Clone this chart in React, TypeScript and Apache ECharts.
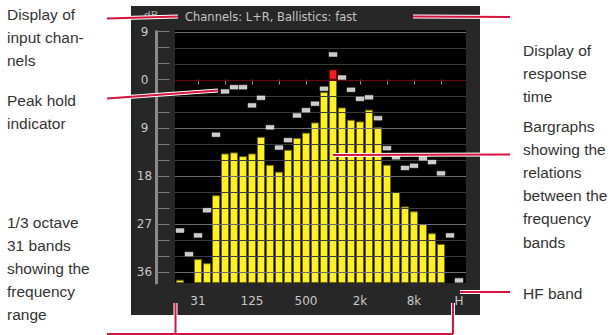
import React, { useEffect, useRef } from "react";
import * as echarts from "echarts";

// 1/3-octave bands (31) plus the HF band
const bands = [
  "20", "25", "31", "40", "50", "63", "80", "100", "125", "160", "200", "250",
  "315", "400", "500", "630", "800", "1k", "1.25k", "1.6k", "2k", "2.5k", "3.15k",
  "4k", "5k", "6.3k", "8k", "10k", "12.5k", "16k", "20k", "H",
];
const shownBandLabels = ["31", "125", "500", "2k", "8k", "H"];

// current level per band (dB, 0 = reference, negative = below)
const levels: (number | null)[] = [
  -37.4, null, -33.5, -34.3, -21.6, -13.8, -13.6, -14.3, -13.8, -10.7, -15.9, -17.2,
  -13.1, -10.9, -9.9, -8.0, -2.3, 1.9, -5.2, -7.5, -7.8, -5.6, -8.9, -15.9,
  -21.0, -23.7, -24.6, -27.0, -28.7, -30.7, null, null,
];

// peak hold per band (dB)
const peaks = [
  -28.2, -32.6, -29.1, -24.4, -10.3, -2.2, -1.4, -1.4, -4.8, -3.4, -8.9, -12.7,
  -11.3, -6.7, -5.7, -4.5, -1.7, 4.7, 0.4, -1.9, -3.6, -3.3, -7.2, -12.8,
  -14.5, -16.5, -16.1, -14.7, -15.4, -17.5, -29.1, -37.5,
];

const gridLevels = [9, 6, 3, 0, -3, -6, -9, -12, -15, -18, -21, -24, -27, -30, -33, -36];
const scaleLabels = [9, 0, -9, -18, -27, -36];
const yMin = -38;
const yMax = 9;

const leftNotes = [
  { lines: ["Display of", "input chan-", "nels"], y: 14 },
  { lines: ["Peak hold", "indicator"], y: 100 },
  { lines: ["1/3 octave", "31 bands", "showing the", "frequency", "range"], y: 222 },
];
const rightNotes = [
  { lines: ["Display of", "response", "time"], y: 50 },
  { lines: ["Bargraphs", "showing the", "relations", "between the", "frequency", "bands"], y: 126 },
  { lines: ["HF band"], y: 293 },
];

const RED = "#d6143e";
const leaderLines: number[][][] = [
  [[107, 18.5], [178, 16.5]],
  [[413, 16.5], [510, 17]],
  [[107, 98.5], [218, 90.5]],
  [[333, 155], [510, 154.5]],
  [[460, 292], [510, 292]],
  [[175.5, 303], [175.5, 334]],
  [[453, 303], [453, 334]],
  [[107, 334], [453, 334]],
];

function buildOption() {
  const graphics: any[] = [
    { type: "rect", z: -2, shape: { x: 131, y: 6, width: 349, height: 309 }, style: { fill: "#272727" } },
    { type: "rect", z: -1, shape: { x: 175, y: 30, width: 291, height: 253 }, style: { fill: "#000000" } },
    {
      type: "text", z: 50, x: 185, y: 17,
      style: { text: "Channels: L+R, Ballistics: fast", fill: "#c4c4c4", fontSize: 11.5, fontFamily: "DejaVu Sans", align: "left", verticalAlign: "middle" },
    },
    {
      type: "text", z: 50, x: 151, y: 15,
      style: { text: "dB", fill: "#a8a8a8", fontSize: 11, fontFamily: "DejaVu Sans", align: "center", verticalAlign: "middle" },
    },
  ];
  const LH = 23.2;
  leftNotes.forEach((n) =>
    n.lines.forEach((t, k) =>
      graphics.push({
        type: "text", z: 50, x: 7, y: n.y + k * LH,
        style: { text: t, fill: "#333333", fontSize: 15.5, fontFamily: "Liberation Sans", align: "left", verticalAlign: "middle" },
      })
    )
  );
  rightNotes.forEach((n) =>
    n.lines.forEach((t, k) =>
      graphics.push({
        type: "text", z: 50, x: 523, y: n.y + k * LH,
        style: { text: t, fill: "#333333", fontSize: 15.5, fontFamily: "Liberation Sans", align: "left", verticalAlign: "middle" },
      })
    )
  );
  leaderLines.forEach((pts) => {
    graphics.push({ type: "polyline", z: 100, shape: { points: pts }, style: { stroke: "#ffffff", lineWidth: 4, fill: null } });
  });
  leaderLines.forEach((pts) => {
    graphics.push({ type: "polyline", z: 101, shape: { points: pts }, style: { stroke: RED, lineWidth: 2, fill: null } });
  });

  return {
    animation: false,
    backgroundColor: "#ffffff",
    grid: { left: 175.5, top: 31.5, width: 288, height: 251.5, containLabel: false },
    xAxis: {
      type: "category",
      data: bands,
      boundaryGap: true,
      axisLine: { show: false },
      axisTick: {
        show: true,
        alignWithLabel: true,
        interval: (i: number) => i % 3 === 2 && i < 30,
        length: 5,
        lineStyle: { color: "#8c8c8c" },
      },
      axisLabel: {
        interval: (_i: number, v: string) => shownBandLabels.includes(v),
        color: "#c8c8c8",
        fontSize: 12,
        fontFamily: "DejaVu Sans",
        margin: 12,
      },
      splitLine: { show: false },
    },
    yAxis: {
      type: "value",
      min: yMin,
      max: yMax,
      position: "left",
      offset: 19,
      axisLine: { show: true, lineStyle: { color: "#8a8a8a", width: 3 } },
      axisTick: { show: true, inside: true, length: 13, customValues: gridLevels, lineStyle: { color: "#7a7a7a", width: 1 } },
      axisLabel: {
        show: true,
        customValues: scaleLabels,
        formatter: (v: number) => String(Math.abs(Math.round(v))),
        color: "#c8c8c8",
        fontSize: 12,
        fontFamily: "DejaVu Sans",
        margin: 12,
        align: "center",
      },
      splitLine: { show: false },
    },
    graphic: graphics,
    series: [
      {
        type: "custom",
        name: "bars",
        z: 2,
        silent: true,
        encode: { x: 0, y: 1 },
        data: levels.map((v, i) => [i, v == null ? "-" : v]),
        renderItem: (_params: any, api: any) => {
          const v = api.value(1);
          if (v == null || isNaN(v)) return { type: "group", children: [] };
          const i = api.value(0);
          const top = api.coord([i, v]);
          const base = api.coord([i, yMin]);
          const zero = api.coord([i, 0]);
          const w = api.size([1, 0])[0] - 1;
          const x = Math.round(top[0] - w / 2);
          const yellowTop = v > 0 ? zero[1] : top[1];
          const children: any[] = [
            {
              type: "rect",
              shape: { x: x + 0.5, y: yellowTop + 0.5, width: w - 1, height: base[1] - yellowTop - 1 },
              style: { fill: "#fff21c", stroke: "#6e6800", lineWidth: 1 },
            },
          ];
          if (v > 0) {
            children.push({
              type: "rect",
              shape: { x: x + 0.5, y: top[1] + 0.5, width: w - 1, height: zero[1] - top[1] - 1 },
              style: { fill: "#ff1c1c", stroke: "#7a0000", lineWidth: 1 },
            });
          }
          return { type: "group", children };
        },
      },
      {
        type: "custom",
        name: "grid",
        z: 3,
        silent: true,
        encode: { x: 0, y: 1 },
        data: gridLevels.map((v) => [0, v]),
        renderItem: (params: any, api: any) => {
          const v = api.value(1);
          const y = Math.round(api.coord([0, v])[1]) + 0.5;
          const cs = params.coordSys;
          const color = v === 0 ? "#6e0808" : v % 9 === 0 ? "#6c6c6c" : "#3a3a3a";
          return {
            type: "line",
            shape: { x1: cs.x - 0.5, y1: y, x2: cs.x + cs.width + 2.5, y2: y },
            style: { stroke: color, lineWidth: 1 },
          };
        },
      },
      {
        type: "scatter",
        name: "peak",
        z: 4,
        silent: true,
        symbol: "rect",
        symbolSize: [8, 4],
        itemStyle: { color: "#ffffff", borderColor: "#dddddd", borderWidth: 0.5 },
        data: peaks.map((v, i) => [i, v]),
      },
    ],
  };
}

export default function App() {
  const ref = useRef<HTMLDivElement>(null);
  useEffect(() => {
    if (!ref.current) return;
    const chart = echarts.init(ref.current, null, { renderer: "svg" });
    chart.setOption(buildOption() as any);
    return () => chart.dispose();
  }, []);
  return (
    <div
      ref={ref}
      style={{ position: "absolute", left: 0, top: 0, width: 616, height: 335, background: "#ffffff" }}
    />
  );
}
